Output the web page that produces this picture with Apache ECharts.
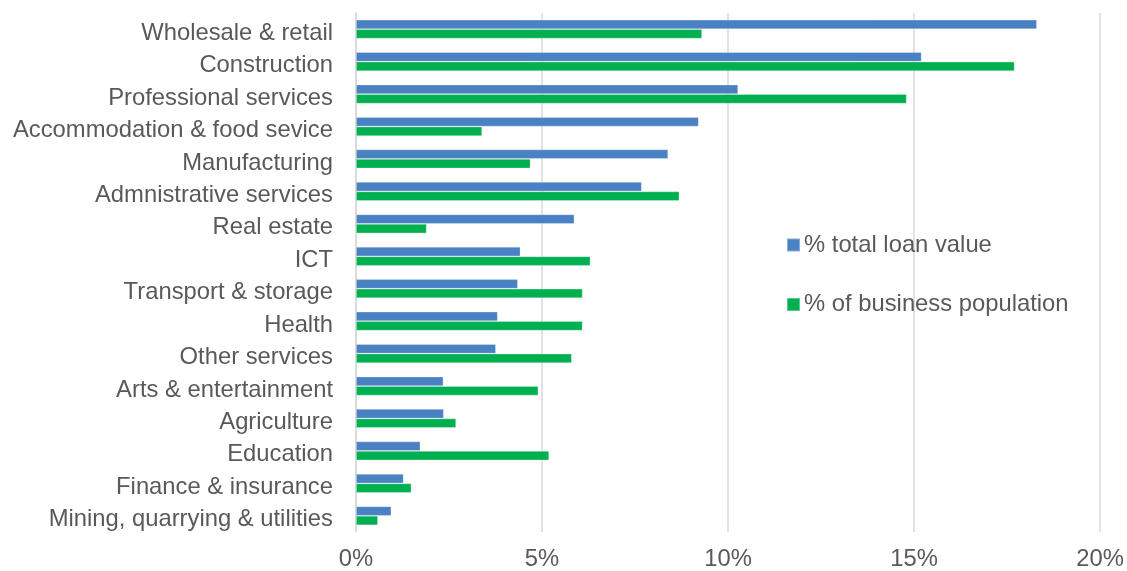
<!DOCTYPE html>
<html>
<head>
<meta charset="utf-8">
<script src="https://cdn.jsdelivr.net/npm/echarts@6/dist/echarts.min.js"></script>
<style>
  html, body { margin: 0; padding: 0; background: #fff; }
  #chart { width: 1127px; height: 571px; }
</style>
</head>
<body>
<div id="chart"></div>
<script>
// Sectors, listed top to bottom
const sectors = [
  'Wholesale & retail',
  'Construction',
  'Professional services',
  'Accommodation & food sevice',
  'Manufacturing',
  'Admnistrative services',
  'Real estate',
  'ICT',
  'Transport & storage',
  'Health',
  'Other services',
  'Arts & entertainment',
  'Agriculture',
  'Education',
  'Finance & insurance',
  'Mining, quarrying & utilities'
];

// Share of total loan value (%)
const loanValue = [18.3, 15.2, 10.27, 9.21, 8.39, 7.68, 5.87, 4.42, 4.35, 3.81, 3.76, 2.35, 2.36, 1.73, 1.28, 0.95];

// Share of business population (%)
const businessPopulation = [9.3, 17.7, 14.8, 3.39, 4.69, 8.69, 1.9, 6.3, 6.09, 6.09, 5.8, 4.9, 2.69, 5.19, 1.49, 0.59];

// Value axis ticks (%)
const xTicks = { min: 0, max: 20, interval: 5 };

const seriesNames = ['% total loan value', '% of business population'];
const colors = ['#4A81C3', '#00B050'];

const font = 'Arial, "Liberation Sans", sans-serif';
const textColor = '#595959';
const fs = 23.8;

const chart = echarts.init(document.getElementById('chart'), null, { renderer: 'canvas' });

chart.setOption({
  animation: false,
  backgroundColor: '#ffffff',
  grid: { left: 356, right: 25, top: 13, bottom: 37, containLabel: false },
  legend: {
    orient: 'vertical',
    left: 786,
    top: 233,
    itemWidth: 13,
    itemHeight: 13,
    itemGap: 35.5,
    padding: 0,
    icon: 'rect',
    textStyle: { color: textColor, fontSize: fs, fontFamily: font, lineHeight: 24, padding: [0, 0, 0, -1] },
    data: seriesNames
  },
  xAxis: {
    type: 'value',
    min: xTicks.min,
    max: xTicks.max,
    interval: xTicks.interval,
    axisLine: { show: false },
    axisTick: { show: false },
    splitLine: { show: true, lineStyle: { color: '#D9D9D9', width: 1.5 } },
    axisLabel: {
      formatter: '{value}%',
      color: textColor,
      fontSize: fs,
      fontFamily: font,
      margin: 15
    }
  },
  yAxis: {
    type: 'category',
    inverse: true,
    data: sectors,
    axisLine: { show: true, lineStyle: { color: '#D9D9D9', width: 1.5 } },
    axisTick: { show: false },
    axisLabel: {
      color: textColor,
      fontSize: fs,
      fontFamily: font,
      margin: 23,
      // sit the text a little below the band centre
      verticalAlign: 'top',
      lineHeight: 8
    }
  },
  series: [
    {
      name: seriesNames[0],
      type: 'bar',
      data: loanValue,
      barWidth: 9.5,
      barGap: '0%',
      itemStyle: { color: colors[0], borderColor: 'rgba(255,255,255,0.35)', borderWidth: 0.8 }
    },
    {
      name: seriesNames[1],
      type: 'bar',
      data: businessPopulation,
      barWidth: 9.5,
      barGap: '0%',
      itemStyle: { color: colors[1], borderColor: 'rgba(255,255,255,0.35)', borderWidth: 0.8 }
    }
  ]
});
</script>
</body>
</html>
